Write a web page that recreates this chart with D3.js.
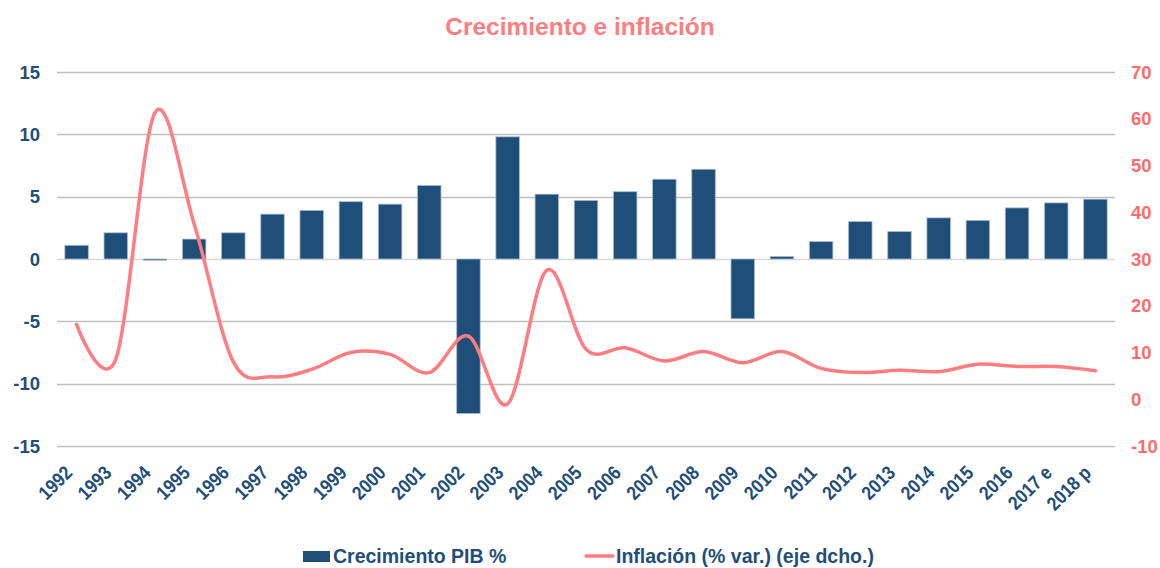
<!DOCTYPE html>
<html>
<head>
<meta charset="utf-8">
<script src="https://cdn.jsdelivr.net/npm/d3@7"></script>
<style>
  body { margin: 0; background: #fff; }
  svg text { font-family: "Liberation Sans", Arial, sans-serif; font-weight: bold; }
</style>
</head>
<body>
<div id="chart"></div>
<script>
// Chart data
const years = ['1992', '1993', '1994', '1995', '1996', '1997', '1998', '1999', '2000', '2001',
    '2002', '2003', '2004', '2005', '2006', '2007', '2008', '2009', '2010', '2011',
    '2012', '2013', '2014', '2015', '2016', '2017 e', '2018 p'];
const gdpGrowth = [1.1, 2.1, -0.1, 1.6, 2.1, 3.6, 3.9, 4.6, 4.4, 5.9,
    -12.4, 9.8, 5.2, 4.7, 5.4, 6.4, 7.2, -4.8, 0.2, 1.4,
    3.0, 2.2, 3.3, 3.1, 4.1, 4.5, 4.8];
const inflation = [16.0, 8.6, 61.3, 37.5, 8.0, 4.8, 6.4, 10.0, 9.6, 5.7,
    13.5, -1.0, 27.6, 10.7, 11.0, 8.2, 10.2, 7.8, 10.2, 6.6,
    5.7, 6.2, 5.9, 7.5, 7.0, 7.0, 6.1];
const leftTicks = [15, 10, 5, 0, -5, -10, -15];
const rightTicks = [70, 60, 50, 40, 30, 20, 10, 0, -10];

const width = 1160, height = 568;
const plot = { left: 57, right: 1115, top: 72, bottom: 446 };
const navy = '#1F4E79';
const salmon = '#FF7C80';

const svg = d3.select('#chart').append('svg')
    .attr('width', width)
    .attr('height', height);

const x = d3.scaleBand()
    .domain(years)
    .range([plot.left, plot.right])
    .paddingInner(0.4)
    .paddingOuter(0.2);

const yLeft = d3.scaleLinear().domain([-15, 15]).range([plot.bottom, plot.top]);
const yRight = d3.scaleLinear().domain([-10, 70]).range([plot.bottom, plot.top]);

// Title
svg.append('text')
    .attr('x', 580)
    .attr('y', 35)
    .attr('text-anchor', 'middle')
    .attr('font-size', 24.5)
    .attr('fill', salmon)
    .text('Crecimiento e inflación');

// Gridlines
svg.append('g')
    .selectAll('line')
    .data(leftTicks)
    .enter().append('line')
    .attr('x1', plot.left)
    .attr('x2', plot.right)
    .attr('y1', d => Math.round(yLeft(d)) + 0.5)
    .attr('y2', d => Math.round(yLeft(d)) + 0.5)
    .attr('stroke', d => d === 0 ? '#D9D9D9' : '#BFBFBF')
    .attr('stroke-width', 1.3);

// Left axis labels
svg.append('g')
    .selectAll('text')
    .data(leftTicks)
    .enter().append('text')
    .attr('x', 40)
    .attr('y', d => yLeft(d))
    .attr('dy', '0.36em')
    .attr('text-anchor', 'end')
    .attr('font-size', 18.5)
    .attr('fill', navy)
    .text(d => d);

// Right axis labels
svg.append('g')
    .selectAll('text')
    .data(rightTicks)
    .enter().append('text')
    .attr('x', 1131)
    .attr('y', d => yRight(d))
    .attr('dy', '0.36em')
    .attr('text-anchor', 'start')
    .attr('font-size', 18.5)
    .attr('fill', '#FF6B6B')
    .text(d => d);

// Bars
svg.append('g')
    .selectAll('rect')
    .data(gdpGrowth)
    .enter().append('rect')
    .attr('x', (d, i) => x(years[i]))
    .attr('width', x.bandwidth())
    .attr('y', d => yLeft(Math.max(0, d)))
    .attr('height', d => Math.abs(yLeft(d) - yLeft(0)))
    .attr('fill', navy)
    .attr('stroke', '#A9BCD0')
    .attr('stroke-width', 0.8);

// Inflation line (smoothed)
const line = d3.line()
    .x((d, i) => x(years[i]) + x.bandwidth() / 2)
    .y(d => yRight(d))
    .curve(d3.curveCardinal.tension(0));

svg.append('path')
    .datum(inflation)
    .attr('d', line)
    .attr('fill', 'none')
    .attr('stroke', salmon)
    .attr('stroke-width', 3.5)
    .attr('stroke-linecap', 'round');

// Category labels (slightly condensed, like the original)
svg.append('g')
    .selectAll('text')
    .data(years)
    .enter().append('text')
    .attr('transform', d => `translate(${x(d) + x.bandwidth() / 2 - 3},474) rotate(-45) scale(0.88,1)`)
    .attr('text-anchor', 'end')
    .attr('font-size', 19.5)
    .attr('fill', navy)
    .text(d => d);

// Legend
const legend = svg.append('g');
legend.append('rect')
    .attr('x', 303).attr('y', 551)
    .attr('width', 27).attr('height', 11)
    .attr('fill', navy);
legend.append('text')
    .attr('x', 333).attr('y', 563)
    .attr('font-size', 19.5)
    .attr('fill', navy)
    .text('Crecimiento PIB %');
legend.append('line')
    .attr('x1', 586).attr('x2', 613)
    .attr('y1', 556).attr('y2', 556)
    .attr('stroke', salmon)
    .attr('stroke-width', 3.5)
    .attr('stroke-linecap', 'round');
legend.append('text')
    .attr('x', 616).attr('y', 563)
    .attr('font-size', 19.5)
    .attr('fill', navy)
    .text('Inflación (% var.) (eje dcho.)');
</script>
</body>
</html>
